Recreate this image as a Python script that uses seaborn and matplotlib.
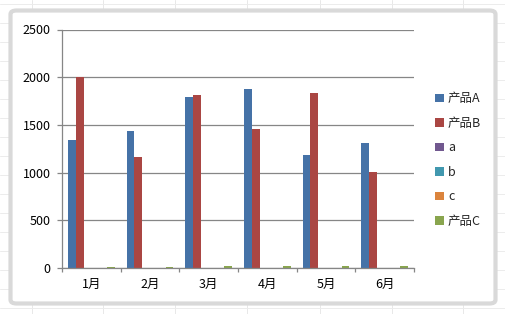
import matplotlib
matplotlib.use("Agg")
import matplotlib.pyplot as plt
from matplotlib.patches import FancyBboxPatch
from matplotlib.lines import Line2D
import seaborn as sns
import pandas as pd

months = ["1月", "2月", "3月", "4月", "5月", "6月"]
series_names = ["产品A", "产品B", "a", "b", "c", "产品C"]
prod_a = [1340, 1440, 1790, 1880, 1180, 1310]
prod_b = [2000, 1160, 1810, 1460, 1830, 1010]
ser_a = [0, 0, 0, 0, 0, 0]
ser_b = [0, 0, 0, 0, 0, 0]
ser_c = [0, 0, 0, 0, 0, 0]
prod_c = [10, 10, 22, 22, 22, 22]
colors = ["#4572A7", "#AA4643", "#71588F", "#4198AF", "#DB843D", "#89A54E"]
y_ticks = [0, 500, 1000, 1500, 2000, 2500]

values = [prod_a, prod_b, ser_a, ser_b, ser_c, prod_c]
rows = []
for name, vals in zip(series_names, values):
    for m, v in zip(months, vals):
        rows.append({"月份": m, "系列": name, "值": v})
df = pd.DataFrame(rows)

sns.set_style("white")
plt.rcParams["font.family"] = ["Noto Sans CJK SC", "DejaVu Sans"]

W, H = 506, 314
fig = plt.figure(figsize=(W / 100, H / 100), dpi=100)
fig.patch.set_facecolor("white")

# faint spreadsheet grid in the background
for x in [32, 103, 175, 247, 320, 392, 463]:
    fig.add_artist(Line2D([x / W, x / W], [0, 1], color="#e8e8e8", lw=0.7, zorder=0))
for y in range(4, H, 19):
    fig.add_artist(Line2D([0, 1], [1 - y / H, 1 - y / H], color="#ececec", lw=0.7, zorder=0))

# chart frame
frame = FancyBboxPatch((10.5 / W, 10.5 / H), (W - 21) / W, (H - 21) / H,
                       boxstyle="round,pad=0,rounding_size=0.012",
                       transform=fig.transFigure, facecolor="white",
                       edgecolor="#d9d9d9", lw=3.0, zorder=1)
fig.add_artist(frame)

ax = fig.add_axes([62 / W, 1 - 268 / H, (414 - 62) / W, (268 - 29.5) / H], zorder=2)
ax.patch.set_alpha(0)

sns.barplot(data=df, x="月份", y="值", hue="系列", hue_order=series_names,
            order=months, palette=colors, width=0.8, gap=0, saturation=1,
            edgecolor="none", linewidth=0, ax=ax, legend=True, errorbar=None)

ax.set_ylim(0, 2500)
ax.set_xlim(-0.5, len(months) - 0.5)
ax.set_yticks(y_ticks)
ax.set_yticklabels([str(t) for t in y_ticks])
ax.set_xlabel("")
ax.set_ylabel("")
ax.yaxis.grid(True, color="#868686", lw=0.9)
ax.set_axisbelow(True)
for s in ["top", "right"]:
    ax.spines[s].set_visible(False)
ax.spines["left"].set_color("#868686")
ax.spines["bottom"].set_color("#868686")
ax.spines["left"].set_linewidth(0.9)
ax.spines["bottom"].set_linewidth(0.9)

ax.tick_params(axis="y", which="major", length=3.6, width=0.9, color="#868686",
               pad=4.5, labelsize=9, labelcolor="black", left=True)
ax.set_xticks([i - 0.5 for i in range(len(months) + 1)], minor=True)
ax.tick_params(axis="x", which="minor", length=3, width=0.9, color="#868686", bottom=True)
ax.tick_params(axis="x", which="major", length=0, pad=7, labelsize=9, labelcolor="black")

handles, labels = ax.get_legend_handles_labels()
ax.legend(handles, labels, loc="center left", bbox_to_anchor=(1.045, 0.452),
          frameon=False, fontsize=9, handlelength=0.7, handleheight=0.7,
          handletextpad=0.35, labelspacing=0.92, borderaxespad=0)

fig.savefig("out.png", dpi=100, facecolor=fig.get_facecolor())
